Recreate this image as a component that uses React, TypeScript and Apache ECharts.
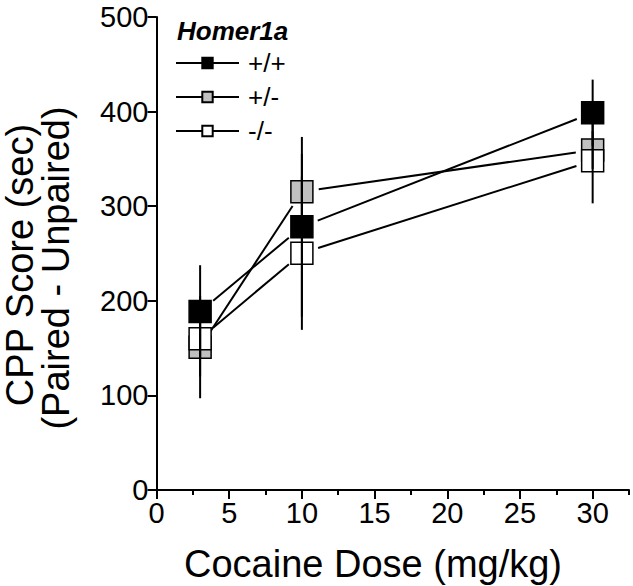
import { useEffect, useRef } from 'react';
import * as echarts from 'echarts';

const doses = [3, 10, 30];
const groups = ['+/+', '+/-', '-/-'];
const wtMean = [188.6, 278.2, 398.8];
const wtSem = [49, 95, 35];
const hetMean = [151, 315.3, 359.4];
const hetSem = [54, 40, 20];
const koMean = [160, 250.3, 348];
const koSem = [40, 81, 45];
const xTicks = [0, 5, 10, 15, 20, 25, 30];
const xMinorTicks = [2.5, 7.5, 12.5, 17.5, 22.5, 27.5, 32.5];
const yTicks = [0, 100, 200, 300, 400, 500];

const FONT = '"Liberation Sans", Arial, sans-serif';

const fills = ['#000000', '#c0c0c0', '#ffffff'];
const means = [wtMean, hetMean, koMean];
const sems = [wtSem, hetSem, koSem];
const zOrder = [5, 3, 4];

export default function App() {
  const ref = useRef<HTMLDivElement>(null);
  useEffect(() => {
    if (!ref.current) return;
    const chart = echarts.init(ref.current, null, { renderer: 'svg' });

    const markerSeries = groups.map((g, k) => ({
      name: g,
      type: 'line',
      data: doses.map((d, i) => [d, means[k][i]]),
      symbol: 'rect',
      symbolSize: 22,
      showSymbol: true,
      lineStyle: { opacity: 0, width: 0 },
      itemStyle: { color: fills[k], borderColor: '#000', borderWidth: 1.5 },
      z: zOrder[k],
      silent: true,
    }));

    const lineSeries = groups.map((g, k) => ({
      type: 'custom',
      data: doses.slice(0, -1).map((d, i) => [d, means[k][i], doses[i + 1], means[k][i + 1]]),
      encode: { x: [0, 2], y: [1, 3] },
      z: 2,
      silent: true,
      renderItem: (_p: any, api: any) => {
        const p0 = api.coord([api.value(0), api.value(1)]);
        const p1 = api.coord([api.value(2), api.value(3)]);
        const dx = p1[0] - p0[0];
        const dy = p1[1] - p0[1];
        const L = Math.hypot(dx, dy);
        const gap = 17;
        const ux = dx / L;
        const uy = dy / L;
        return {
          type: 'line',
          shape: { x1: p0[0] + ux * gap, y1: p0[1] + uy * gap, x2: p1[0] - ux * gap, y2: p1[1] - uy * gap },
          style: { stroke: '#000', lineWidth: 2 },
        };
      },
    }));

    const errSeries = groups.map((g, k) => ({
      type: 'custom',
      data: doses.map((d, i) => [d, means[k][i] - sems[k][i], means[k][i] + sems[k][i]]),
      encode: { x: 0, y: [1, 2] },
      z: 6,
      silent: true,
      renderItem: (_p: any, api: any) => {
        const a = api.coord([api.value(0), api.value(1)]);
        const b = api.coord([api.value(0), api.value(2)]);
        return {
          type: 'line',
          shape: { x1: a[0], y1: a[1], x2: b[0], y2: b[1] },
          style: { stroke: '#000', lineWidth: 2 },
        };
      },
    }));

    chart.setOption({
      animation: false,
      backgroundColor: '#fff',
      textStyle: { fontFamily: FONT },
      grid: { left: 156.5, right: 4, top: 17, bottom: 96, containLabel: false },
      title: {
        text: 'Homer1a',
        left: 177,
        top: 18,
        padding: 0,
        textStyle: { fontFamily: FONT, fontSize: 26, fontWeight: 'bold', fontStyle: 'italic', color: '#000' },
      },
      legend: {
        data: groups,
        orient: 'vertical',
        left: 175,
        top: 50,
        padding: 0,
        itemWidth: 63,
        itemHeight: 13,
        itemGap: 8,
        textStyle: { fontFamily: FONT, fontSize: 26, color: '#000', padding: [0, 0, 0, 4] },
        lineStyle: { color: '#000', width: 2, opacity: 1 },
        selectedMode: false,
      },
      xAxis: [
        {
          type: 'value',
          min: 0,
          max: 32.5,
          axisLine: { show: true, lineStyle: { color: '#000', width: 2 } },
          axisTick: { show: true, length: 9, lineStyle: { color: '#000', width: 2 }, customValues: xTicks },
          axisLabel: { customValues: xTicks, fontSize: 29, color: '#000', margin: 8, fontFamily: FONT },
          splitLine: { show: false },
        },
        {
          type: 'value',
          min: 0,
          max: 32.5,
          position: 'bottom',
          axisLine: { show: false },
          axisTick: { show: true, length: 5, lineStyle: { color: '#000', width: 2 }, customValues: xMinorTicks },
          axisLabel: { show: false },
          splitLine: { show: false },
        },
      ],
      yAxis: {
        type: 'value',
        min: 0,
        max: 500,
        interval: 100,
        axisLine: { show: true, lineStyle: { color: '#000', width: 2 } },
        axisTick: { show: true, length: 9, lineStyle: { color: '#000', width: 2 } },
        axisLabel: { fontSize: 29, color: '#000', margin: 8, fontFamily: FONT,
          formatter: (v: number) => (yTicks.includes(v) ? String(v) : '') },
        splitLine: { show: false },
      },
      graphic: [
        {
          type: 'text',
          x: 373,
          y: 564,
          style: { text: 'Cocaine Dose (mg/kg)', fontSize: 38, fontFamily: FONT, fill: '#000', align: 'center', verticalAlign: 'middle' },
        },
        {
          type: 'text',
          x: 20,
          y: 265,
          rotation: Math.PI / 2,
          style: { text: 'CPP Score (sec)', fontSize: 38, fontFamily: FONT, fill: '#000', align: 'center', verticalAlign: 'middle' },
        },
        {
          type: 'text',
          x: 56,
          y: 268,
          rotation: Math.PI / 2,
          style: { text: '(Paired - Unpaired)', fontSize: 38, fontFamily: FONT, fill: '#000', align: 'center', verticalAlign: 'middle' },
        },
      ],
      series: [...lineSeries, ...markerSeries, ...errSeries],
    });
    return () => chart.dispose();
  }, []);
  return <div ref={ref} style={{ position: 'fixed', left: 0, top: 0, width: 633, height: 586 }} />;
}
